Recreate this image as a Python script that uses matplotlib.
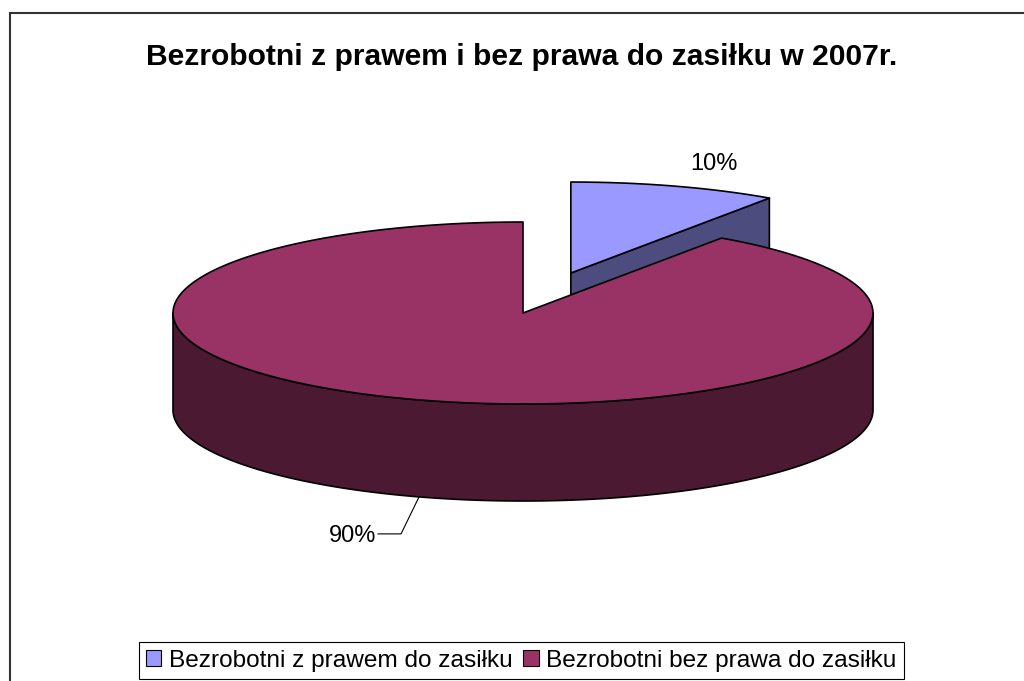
import numpy as np
import matplotlib
matplotlib.use('Agg')
import matplotlib.pyplot as plt
from matplotlib.patches import Polygon, Patch

plt.rcParams['font.family'] = ['Liberation Sans', 'DejaVu Sans']

# dane
title = 'Bezrobotni z prawem i bez prawa do zasiłku w 2007r.'
labels = ['Bezrobotni z prawem do zasiłku', 'Bezrobotni bez prawa do zasiłku']
values = [9.6, 90.4]
top_colors = ['#9999FF', '#993366']
side_colors = ['#4C4C7F', '#4C1933']
explode = [0.46, 0.0]

# geometria "3D" (piksele)
cx, cy = 523, 313      # srodek gornej elipsy
a, b = 350, 91         # polosie
h = 97                 # grubosc
edge_kw = dict(edgecolor='black', linewidth=1.2, joinstyle='round')


def pt(t, r, ox, oy, dz=0):
    # t w stopniach, zgodnie z ruchem wskazowek od godziny 12
    tr = np.radians(t)
    return cx + ox + a * r * np.sin(tr), cy + oy - b * r * np.cos(tr) + dz


def arc(t0, t1, ox, oy, dz=0, n=200):
    ts = np.linspace(t0, t1, n)
    return [pt(t, 1, ox, oy, dz) for t in ts]


fig = plt.figure(figsize=(10.24, 6.81), dpi=100)
ax = fig.add_axes([0, 0, 1, 1])
ax.set_xlim(0, 1024)
ax.set_ylim(681, 0)
ax.axis('off')

total = sum(values)
angles = np.cumsum([0] + [v / total * 360 for v in values])

# kolejnosc: najpierw wycinek z tylu (maly), potem duzy
for i in range(len(values)):
    s, e = angles[i], angles[i + 1]
    mid = np.radians((s + e) / 2)
    ox = explode[i] * a * np.sin(mid)
    oy = -explode[i] * b * np.cos(mid)
    c = (cx + ox, cy + oy)

    # sciany przekroju widoczne z przodu
    if np.sin(np.radians(e)) > 1e-6:
        p = pt(e, 1, ox, oy)
        ax.add_patch(Polygon([c, p, (p[0], p[1] + h), (c[0], c[1] + h)],
                             closed=True, facecolor=side_colors[i], **edge_kw))
    if np.sin(np.radians(s)) < -1e-6:
        p = pt(s, 1, ox, oy)
        ax.add_patch(Polygon([c, p, (p[0], p[1] + h), (c[0], c[1] + h)],
                             closed=True, facecolor=side_colors[i], **edge_kw))

    # sciana zewnetrzna (przednia polowa)
    f0, f1 = max(s, 90), min(e, 270)
    if f1 > f0:
        front = arc(f0, f1, ox, oy) + arc(f0, f1, ox, oy, h)[::-1]
        ax.add_patch(Polygon(front, closed=True, facecolor=side_colors[i], **edge_kw))

    # gorna powierzchnia
    topface = [c] + arc(s, e, ox, oy)
    ax.add_patch(Polygon(topface, closed=True, facecolor=top_colors[i], **edge_kw))

# etykiety procentowe
m0 = np.radians((angles[0] + angles[1]) / 2)
ox0 = explode[0] * a * np.sin(m0)
oy0 = -explode[0] * b * np.cos(m0)
rx, ry = pt(np.degrees(m0), 1, ox0, oy0)
ax.text(rx + 39, ry - 22, '%.0f%%' % (values[0] / total * 100),
        ha='center', va='center', fontsize=17)

m1 = (angles[1] + angles[2]) / 2
bx, by = pt(m1, 1, 0, 0, h)
ax.plot([bx, bx - 18, bx - 41], [by, by + 37, by + 37], color='black', lw=0.8)
ax.text(bx - 43, by + 39, '%.0f%%' % (values[1] / total * 100),
        ha='right', va='center', fontsize=17)

# tytul
ax.text(522, 57, title, ha='center', va='center', fontsize=21.6, fontweight='bold')

# ramka wykresu
ax.plot([10, 10, 1030], [690, 13, 13], color='#333333', lw=1.5, solid_joinstyle='miter')

# legenda
handles = [Patch(facecolor=top_colors[k], edgecolor='black', linewidth=0.8) for k in range(2)]
leg = ax.legend(handles, labels, ncol=2, loc='lower center', bbox_to_anchor=(0.509, 0.003),
                fontsize=17.6, frameon=True, fancybox=False, framealpha=1,
                handlelength=0.62, handleheight=0.62, handletextpad=0.3,
                columnspacing=0.45, borderpad=0.3, borderaxespad=0)
leg.get_frame().set_edgecolor('black')
leg.get_frame().set_linewidth(0.8)

fig.savefig('out.png', dpi=100)
